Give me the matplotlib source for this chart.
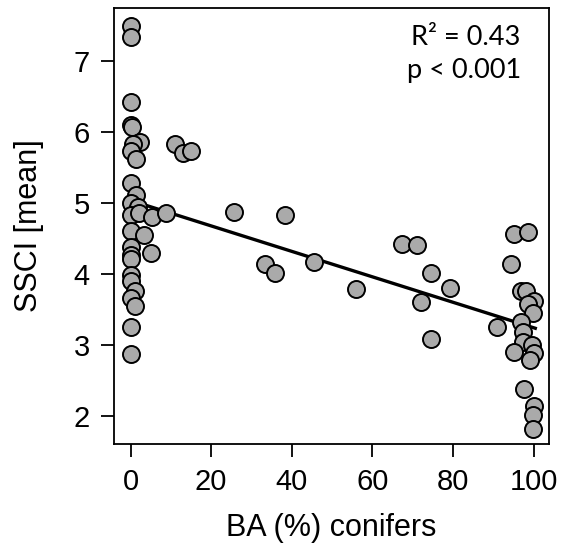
import numpy as np
import matplotlib
matplotlib.use("Agg")
import matplotlib.pyplot as plt

# basal area share of conifers (%) and mean SSCI per plot
ba_conifers = [0, 0, 0, 0, 0.4, 2.4, 0.5, 0, 1.4, 11.0, 13.1, 14.9,
               0, 1.3, 0, 1.9, 0, 2.1, 5.4, 8.7, 0, 3.4, 0, 0, 0, 5.1,
               0, 0, 1.1, 0, 1.1, 0, 0,
               25.7, 38.4, 33.4, 35.9, 45.4, 55.9, 67.3, 71.0, 74.5, 79.3, 72.0, 74.5,
               95.0, 98.7, 94.3, 96.8, 98.1, 100.1, 98.5, 99.8, 91.0, 96.8, 97.4,
               97.4, 99.6, 95.0, 100.0, 99.0, 97.6, 100.2, 99.8, 99.8]
ssci_mean = [7.49, 7.33, 6.41, 6.09, 6.06, 5.85, 5.83, 5.72, 5.61, 5.83, 5.70, 5.72,
             5.28, 5.11, 5.00, 4.94, 4.83, 4.86, 4.80, 4.85, 4.60, 4.55, 4.38, 4.26, 4.20, 4.29,
             3.98, 3.89, 3.76, 3.65, 3.54, 3.25, 2.87,
             4.87, 4.83, 4.14, 4.01, 4.16, 3.78, 4.42, 4.40, 4.01, 3.79, 3.60, 3.08,
             4.56, 4.59, 4.14, 3.75, 3.75, 3.61, 3.57, 3.44, 3.25, 3.32, 3.18,
             3.04, 3.00, 2.90, 2.88, 2.78, 2.37, 2.14, 2.01, 1.81]

# regression line as drawn
fit_x = [0, 100.4]
fit_y = [5.03, 3.23]

x_ticks = [0, 20, 40, 60, 80, 100]
y_ticks = [2, 3, 4, 5, 6, 7]

plt.rcParams['font.family'] = ['Liberation Sans', 'DejaVu Sans']

fig = plt.figure(figsize=(5.61, 5.44), dpi=100)
ax = fig.add_axes([0.2032, 0.1838, 0.7754, 0.8015])

ax.plot(fit_x, fit_y, color='black', lw=2.4, zorder=2)
ax.scatter(ba_conifers, ssci_mean, s=150, facecolor='#aaaaaa', edgecolor='black',
           linewidth=1.4, zorder=3)

ax.set_xlim(-4.1, 103.8)
ax.set_ylim(1.60, 7.74)
ax.set_xticks(x_ticks)
ax.set_yticks(y_ticks)
ax.tick_params(axis='both', labelsize=21, length=9.5, width=1.3)
ax.tick_params(axis='x', pad=8)
ax.tick_params(axis='y', pad=8)
for sp in ax.spines.values():
    sp.set_linewidth(1.3)

ax.set_xlabel('BA (%) conifers', fontsize=22, labelpad=12)
ax.set_ylabel('SSCI [mean]', fontsize=22, labelpad=21)

ax.text(0.935, 0.96, 'R² = 0.43\np < 0.001', transform=ax.transAxes,
        ha='right', va='top', fontsize=19.5, family=['Lato', 'DejaVu Sans'],
        linespacing=1.4)

fig.savefig('out.png', dpi=100)
